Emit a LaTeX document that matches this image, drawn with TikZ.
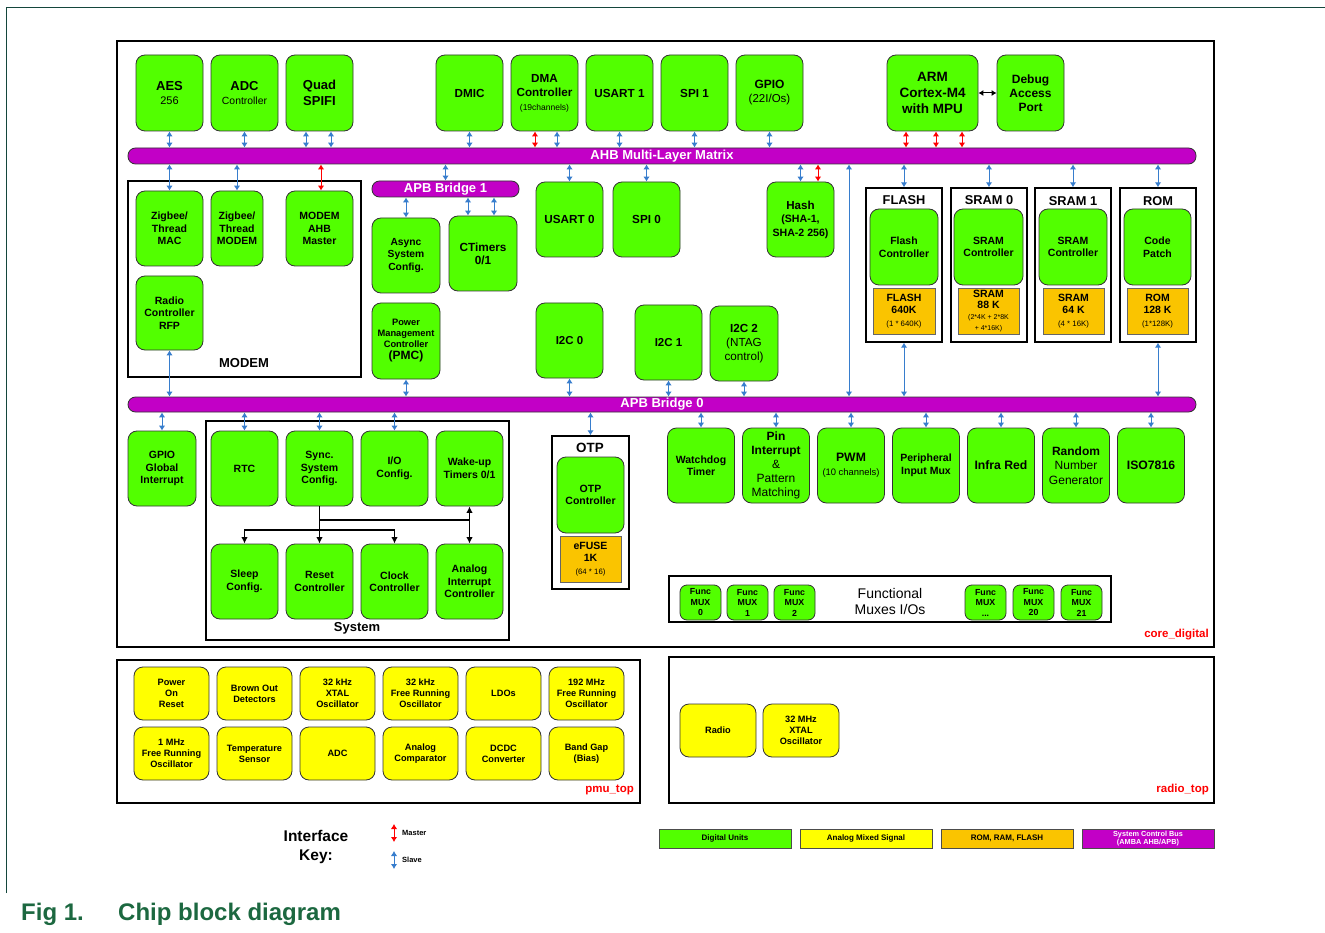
\documentclass[tikz,border=0pt]{standalone}
\usepackage{fontspec}
\setmainfont{Liberation Sans}
\usetikzlibrary{arrows.meta}
\definecolor{dgreen}{RGB}{82,255,0}
\definecolor{ayellow}{RGB}{255,255,0}
\definecolor{morange}{RGB}{250,196,0}
\definecolor{busmag}{RGB}{194,0,198}
\definecolor{arrblue}{RGB}{55,125,205}
\definecolor{capgreen}{RGB}{28,104,64}
\definecolor{frameg}{RGB}{20,70,60}
\newcommand\fz[2]{\fontsize{#1}{#2}\selectfont}
\newcommand\blk[7]{\node[#6,minimum width={#4-#2},minimum height={#5-#3}] (#1) at ({(#2+#4)/2},{(#3+#5)/2}) {#7};}
\newcommand\vup[4]{\coordinate (vtmp) at ([xshift=#3]#2); \draw[#1] (vtmp) -- (vtmp |- #4);}
\begin{document}
\begin{tikzpicture}[x=1pt,y=-1pt,
 blk/.style={draw=black!80,line width=0.8pt,rounded corners=9pt,align=center,inner sep=0pt,font=\bfseries\fz{10.5}{12.5}},
 dig/.style={blk,fill=dgreen},
 ams/.style={blk,fill=ayellow,font=\bfseries\fz{9.2}{11}},
 mem/.style={draw=black!60,line width=0.8pt,fill=morange,align=center,inner sep=0pt,font=\bfseries\fz{10.5}{12.5}},
 frm/.style={draw=black,line width=1.4pt,inner sep=0pt},
 bus/.style={draw=black!80,line width=0.8pt,fill=busmag,rounded corners=7.5pt,text=white,font=\bfseries\fz{13}{15},inner sep=0pt},
 leg/.style={draw=black!70,line width=0.8pt,inner sep=0pt,align=center,font=\bfseries\fz{8}{9}},
 lbl/.style={font=\bfseries\fz{13}{15},inner sep=0pt},
 ttl/.style={font=\bfseries\fz{12.8}{15},inner sep=0pt},
 redl/.style={font=\bfseries\fz{11.5}{13},text=red,anchor=east,inner sep=0pt},
 slave/.style={draw=arrblue,line width=1pt,{Latex[length=5pt,width=6.5pt]}-{Latex[length=5pt,width=6.5pt]}},
 master/.style={slave,draw=red},
 sysarr/.style={draw=black,line width=1.3pt,-{Latex[length=6.5pt,width=6.5pt]}},
 sysdbl/.style={draw=black,line width=1.3pt,{Latex[length=6.5pt,width=6.5pt]}-{Latex[length=6.5pt,width=6.5pt]}},
 sysline/.style={draw=black,line width=1.3pt}]
\useasboundingbox (0,0) rectangle (1325,933);
\fill[white] (0,0) rectangle (1325,933);
\draw[frameg,line width=0.9pt] (6,893) -- (6,7) -- (1325,7);

% frames
\blk{core}{117}{41}{1214}{647}{frm}{}
\blk{modemf}{128}{181}{361}{377}{frm}{}
\blk{sysf}{206}{421}{509}{640}{frm}{}
\blk{otpf}{552}{436}{629}{589}{frm}{}
\blk{funcf}{669}{576}{1111}{622}{frm}{}
\blk{flashf}{866}{188}{942}{342}{frm}{}
\blk{sram0f}{951}{188}{1027}{342}{frm}{}
\blk{sram1f}{1035}{188}{1111}{342}{frm}{}
\blk{romf}{1120}{188}{1196}{342}{frm}{}
\blk{pmuf}{117}{660}{640}{803}{frm}{}
\blk{radiof}{669}{657}{1214}{803}{frm}{}

% top row
\blk{aes}{136}{55}{203}{131}{dig}{\fz{13}{15}AES\\[1pt]\mdseries\fz{11}{13}256}
\blk{adc}{211}{55}{278}{131}{dig}{\fz{13}{15}ADC\\[1pt]\mdseries\fz{10.4}{12}Controller}
\blk{spifi}{286}{55}{353}{131}{dig,font=\bfseries\fz{13}{16}}{Quad\\SPIFI}
\blk{dmic}{436}{55}{503}{131}{dig,font=\bfseries\fz{11.7}{14}}{DMIC}
\blk{dma}{511}{55}{578}{131}{dig,font=\bfseries\fz{11.7}{14}}{DMA\\Controller\\\mdseries\fz{8.5}{12}(19channels)}
\blk{usart1}{586}{55}{653}{131}{dig,font=\bfseries\fz{11.7}{14}}{USART 1}
\blk{spi1}{661}{55}{728}{131}{dig,font=\bfseries\fz{11.7}{14}}{SPI 1}
\blk{gpio}{736}{55}{803}{131}{dig,font=\bfseries\fz{12}{14}}{GPIO\\\mdseries\fz{11.5}{13}(22I/Os)}
\blk{arm}{887}{55}{978}{131}{dig,font=\bfseries\fz{13.5}{16}}{ARM\\Cortex-M4\\with MPU}
\blk{dbg}{997}{55}{1064}{131}{dig,font=\bfseries\fz{12}{14}}{Debug\\Access\\Port}

% buses
\blk{ahb}{128}{148}{1196}{164}{bus}{AHB Multi-Layer Matrix}
\blk{apb1}{372}{181}{519}{197}{bus}{APB Bridge 1}
\blk{apb0}{128}{397}{1196}{412}{bus}{APB Bridge 0}

% modem
\node[lbl] (modeml) at (244,363) {MODEM};
\blk{zmac}{136}{191}{203}{266}{dig}{Zigbee/\\Thread\\MAC}
\blk{zmod}{211}{191}{263}{266}{dig}{Zigbee/\\Thread\\MODEM}
\blk{mahb}{286}{191}{353}{266}{dig}{MODEM\\AHB\\Master}
\blk{rfp}{136}{276}{203}{350}{dig}{Radio\\Controller\\RFP}

% APB1 group
\blk{async}{372}{218}{440}{293}{dig,font=\bfseries\fz{10.3}{12.5}}{Async\\System\\Config.}
\blk{ctim}{449}{216}{517}{291}{dig,font=\bfseries\fz{11.8}{13}}{CTimers\\0/1}
\blk{pmc}{372}{303}{440}{379}{dig,font=\bfseries\fz{9.3}{11}}{Power\\Management\\Controller\\[1pt]\fz{12}{14}(PMC)}

% middle
\blk{usart0}{536}{182}{603}{257}{dig,font=\bfseries\fz{11.7}{14}}{USART 0}
\blk{spi0}{613}{182}{680}{257}{dig,font=\bfseries\fz{11.7}{14}}{SPI 0}
\blk{hash}{767}{182}{834}{257}{dig,font=\bfseries\fz{10.6}{13.5}}{\fz{11.6}{13.5}Hash\\\fz{10.6}{13.5}(SHA-1,\\SHA-2 256)}
\blk{i2c0}{536}{303}{603}{378}{dig,font=\bfseries\fz{11.5}{14}}{I2C 0}
\blk{i2c1}{635}{305}{702}{380}{dig,font=\bfseries\fz{11.5}{14}}{I2C 1}
\blk{i2c2}{710}{306}{778}{381}{dig,font=\bfseries\fz{11.7}{14}}{I2C 2\\\mdseries (NTAG\\\mdseries control)}

% memories
\node[ttl] (flasht) at (904,200) {FLASH};
\node[ttl] (sram0t) at (989,200) {SRAM 0};
\node[ttl] (sram1t) at (1073,201) {SRAM 1};
\node[ttl] (romt) at (1158,201) {ROM};
\blk{flashc}{870}{209}{938}{285}{dig}{Flash\\Controller}
\blk{sram0c}{954}{209}{1023}{285}{dig}{SRAM\\Controller}
\blk{sram1c}{1039}{209}{1107}{285}{dig}{SRAM\\Controller}
\blk{romc}{1124}{209}{1191}{285}{dig}{Code\\Patch}
\blk{flashm}{873}{288}{935}{334}{mem}{FLASH\\640K\\\mdseries\fz{7.8}{10}(1 * 640K)}
\blk{sram0m}{958}{288}{1019}{334}{mem,font=\bfseries\fz{10.5}{11.2}}{SRAM\\88 K\\[-1pt]\mdseries\fz{7}{7.8}(2*4K + 2*8K\\\mdseries\fz{7}{7.8}+ 4*16K)}
\blk{sram1m}{1043}{288}{1104}{334}{mem}{SRAM\\64 K\\\mdseries\fz{7.8}{10}(4 * 16K)}
\blk{romm}{1127}{288}{1188}{334}{mem}{ROM\\128 K\\\mdseries\fz{7.8}{10}(1*128K)}

% lower left
\blk{gpioi}{128}{431}{196}{506}{dig}{GPIO\\Global\\Interrupt}
\node[lbl] (sysl) at (357,628) {System};
\blk{rtc}{211}{431}{278}{506}{dig}{RTC}
\blk{sync}{286}{431}{353}{506}{dig}{Sync.\\System\\Config.}
\blk{ioc}{361}{431}{428}{506}{dig}{I/O\\Config.}
\blk{wake}{436}{431}{503}{506}{dig}{Wake-up\\Timers 0/1}
\blk{sleep}{211}{544}{278}{619}{dig}{Sleep\\Config.}
\blk{reset}{286}{544}{353}{619}{dig}{Reset\\Controller}
\blk{clock}{361}{544}{428}{619}{dig}{Clock\\Controller}
\blk{anint}{436}{544}{503}{619}{dig}{Analog\\Interrupt\\Controller}

% OTP
\node[ttl,font=\bfseries\fz{13.4}{15}] (otpt) at (590,448) {OTP};
\blk{otpc}{557}{457}{624}{533}{dig}{OTP\\Controller}
\blk{efuse}{560}{536}{621}{582}{mem}{eFUSE\\1K\\\mdseries\fz{7.8}{10}(64 * 16)}

% right peripherals
\blk{wdt}{667.5}{428}{734.5}{503}{dig}{Watchdog\\Timer}
\blk{pint}{742.5}{428}{809.5}{503}{dig,font=\bfseries\fz{12}{14}}{Pin\\Interrupt\\\mdseries\&\\\mdseries Pattern\\\mdseries Matching}
\blk{pwm}{817.5}{428}{884.5}{503}{dig,font=\bfseries\fz{12.2}{14}}{PWM\\\mdseries\fz{9.4}{12}(10 channels)}
\blk{pim}{892.5}{428}{959.5}{503}{dig}{Peripheral\\Input Mux}
\blk{irr}{967.5}{428}{1034.5}{503}{dig,font=\bfseries\fz{12.2}{14}}{Infra Red}
\blk{rng}{1042.5}{428}{1109.5}{503}{dig,font=\bfseries\fz{12}{14.5}}{Random\\\mdseries Number\\\mdseries Generator}
\blk{iso}{1117.5}{428}{1184.5}{503}{dig,font=\bfseries\fz{12.2}{14}}{ISO7816}

% func muxes
\blk{mux0}{680}{585}{721}{620}{dig,rounded corners=7pt,font=\bfseries\fz{8.8}{10.5}}{Func\\MUX\\0}
\blk{mux1}{727}{585}{768}{620}{dig,rounded corners=7pt,font=\bfseries\fz{8.8}{10.5}}{Func\\MUX\\1}
\blk{mux2}{774}{585}{815}{620}{dig,rounded corners=7pt,font=\bfseries\fz{8.8}{10.5}}{Func\\MUX\\2}
\blk{muxd}{965}{585}{1006}{620}{dig,rounded corners=7pt,font=\bfseries\fz{8.8}{10.5}}{Func\\MUX\\...}
\blk{mux20}{1013}{585}{1054}{620}{dig,rounded corners=7pt,font=\bfseries\fz{8.8}{10.5}}{Func\\MUX\\20}
\blk{mux21}{1061}{585}{1102}{620}{dig,rounded corners=7pt,font=\bfseries\fz{8.8}{10.5}}{Func\\MUX\\21}
\node[font=\fz{14}{16},align=center,inner sep=0pt] (funct) at (890,601) {Functional\\Muxes I/Os};
\node[redl] (corel) at (1209,635) {core\_digital};

% pmu
\blk{p1}{134}{667}{209}{720}{ams}{Power\\On\\Reset}
\blk{p2}{217}{667}{292}{720}{ams}{Brown Out\\Detectors}
\blk{p3}{300}{667}{375}{720}{ams}{32 kHz\\XTAL\\Oscillator}
\blk{p4}{383}{667}{458}{720}{ams}{32 kHz\\Free Running\\Oscillator}
\blk{p5}{466}{667}{541}{720}{ams}{LDOs}
\blk{p6}{549}{667}{624}{720}{ams}{192 MHz\\Free Running\\Oscillator}
\blk{q1}{134}{727}{209}{780}{ams}{1 MHz\\Free Running\\Oscillator}
\blk{q2}{217}{727}{292}{780}{ams}{Temperature\\Sensor}
\blk{q3}{300}{727}{375}{780}{ams}{ADC}
\blk{q4}{383}{727}{458}{780}{ams}{Analog\\Comparator}
\blk{q5}{466}{727}{541}{780}{ams}{DCDC\\Converter}
\blk{q6}{549}{727}{624}{780}{ams}{Band Gap\\(Bias)}
\node[redl] (pmul) at (634,790) {pmu\_top};

% radio
\blk{radio}{680}{704}{756}{757}{ams}{Radio}
\blk{xtal}{763}{704}{839}{757}{ams}{32 MHz\\XTAL\\Oscillator}
\node[redl] (radiol) at (1209,790) {radio\_top};

% legend
\node[font=\bfseries\fz{15.5}{19},align=center,inner sep=0pt] (ikey) at (316,847) {Interface\\Key:};
\coordinate (km1) at (394,824); \coordinate (km2) at (394,842);
\coordinate (ks1) at (394,851); \coordinate (ks2) at (394,869);
\draw[master] (km1) -- (km2);
\draw[slave] (ks1) -- (ks2);
\node[font=\bfseries\fz{7.5}{9},anchor=west,inner sep=0pt] (kml) at (402,833) {Master};
\node[font=\bfseries\fz{7.5}{9},anchor=west,inner sep=0pt] (ksl) at (402,860) {Slave};
\blk{lg1}{659}{829}{791}{848}{leg,fill=dgreen}{Digital Units}
\blk{lg2}{800}{829}{932}{848}{leg,fill=ayellow}{Analog Mixed Signal}
\blk{lg3}{941}{829}{1073}{848}{leg,fill=morange}{ROM, RAM, FLASH}
\blk{lg4}{1082}{829}{1214}{848}{leg,fill=busmag,text=white,font=\bfseries\fz{7.3}{8.3}}{System Control Bus\\(AMBA AHB/APB)}

% caption
\node[anchor=base west,font=\bfseries\fz{24}{28},text=capgreen,inner sep=0pt] (figno) at (21,920) {Fig 1.};
\node[anchor=base west,font=\bfseries\fz{24}{28},text=capgreen,inner sep=0pt] (figcap) at (118,920) {Chip block diagram};

% connectors: top row to AHB
\vup{slave}{aes.south}{0pt}{ahb.north}
\vup{slave}{adc.south}{0pt}{ahb.north}
\vup{slave}{spifi.south}{-13.5pt}{ahb.north}
\vup{slave}{spifi.south}{11.5pt}{ahb.north}
\vup{slave}{dmic.south}{0pt}{ahb.north}
\vup{master}{dma.south}{-9.5pt}{ahb.north}
\vup{slave}{dma.south}{12.5pt}{ahb.north}
\vup{slave}{usart1.south}{0pt}{ahb.north}
\vup{slave}{spi1.south}{0pt}{ahb.north}
\vup{slave}{gpio.south}{0pt}{ahb.north}
\vup{master}{arm.south}{-26.5pt}{ahb.north}
\vup{master}{arm.south}{3.5pt}{ahb.north}
\vup{master}{arm.south}{29.5pt}{ahb.north}
\draw[draw=black,line width=1pt,{Latex[length=5pt,width=6pt]}-{Latex[length=5pt,width=6pt]}] (arm.east) -- (dbg.west);

% AHB to below
\vup{slave}{zmac.north}{0pt}{ahb.south}
\vup{slave}{zmod.north}{0pt}{ahb.south}
\vup{master}{mahb.north}{1.5pt}{ahb.south}
\vup{slave}{apb1.north}{0pt}{ahb.south}
\vup{slave}{usart0.north}{0pt}{ahb.south}
\vup{slave}{spi0.north}{0pt}{ahb.south}
\vup{slave}{hash.north}{0pt}{ahb.south}
\vup{master}{hash.north}{17.5pt}{ahb.south}
\vup{slave}{flashf.north}{0pt}{ahb.south}
\vup{slave}{sram0f.north}{0pt}{ahb.south}
\vup{slave}{sram1f.north}{0pt}{ahb.south}
\vup{slave}{romf.north}{0pt}{ahb.south}
\coordinate (lx) at (849,300);
\draw[slave] (lx |- ahb.south) -- (lx |- apb0.north);

% APB1
\vup{slave}{async.north}{0pt}{apb1.south}
\vup{slave}{ctim.north}{-15pt}{apb1.south}
\vup{slave}{ctim.north}{11pt}{apb1.south}

% to APB0 from above
\vup{slave}{rfp.south}{0pt}{apb0.north}
\vup{slave}{pmc.south}{0pt}{apb0.north}
\vup{slave}{i2c0.south}{0pt}{apb0.north}
\vup{slave}{i2c1.south}{0pt}{apb0.north}
\vup{slave}{i2c2.south}{0pt}{apb0.north}
\vup{slave}{flashf.south}{0pt}{apb0.north}
\vup{slave}{romf.south}{0pt}{apb0.north}

% APB0 to below
\vup{slave}{gpioi.north}{0pt}{apb0.south}
\vup{slave}{rtc.north}{0pt}{apb0.south}
\vup{slave}{sync.north}{0pt}{apb0.south}
\vup{slave}{ioc.north}{0pt}{apb0.south}
\vup{slave}{otpf.north}{0pt}{apb0.south}
\vup{slave}{wdt.north}{0pt}{apb0.south}
\vup{slave}{pint.north}{0pt}{apb0.south}
\vup{slave}{pwm.north}{0pt}{apb0.south}
\vup{slave}{pim.north}{0pt}{apb0.south}
\vup{slave}{irr.north}{0pt}{apb0.south}
\vup{slave}{rng.north}{0pt}{apb0.south}
\vup{slave}{iso.north}{0pt}{apb0.south}

% system internals
\coordinate (hA) at (0,530);
\coordinate (hB) at (0,520);
\draw[sysarr] (sync.south) -- (reset.north);
\draw[sysarr] (sync.south |- hA) -| (sleep.north);
\draw[sysarr] (sync.south |- hA) -| (clock.north);
\draw[sysline] (sync.south |- hB) -- (wake.south |- hB);
\draw[sysdbl] (wake.south) -- (anint.north);
\end{tikzpicture}
\end{document}
